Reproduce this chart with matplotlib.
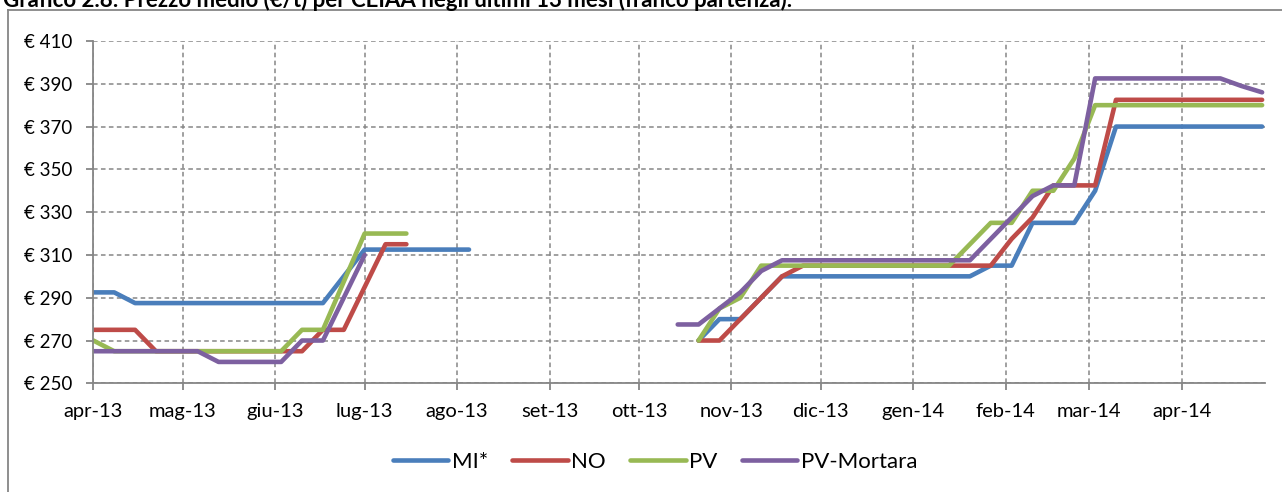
import matplotlib
matplotlib.use('Agg')
import matplotlib.pyplot as plt
import matplotlib.lines as mlines
import numpy as np
import pandas as pd

plt.rcParams['font.family'] = ['Lato', 'DejaVu Sans']

nan = np.nan

# settimane (dati settimanali dal 1 aprile 2013)
dates = pd.date_range('2013-04-01', periods=57, freq='7D')

mi = [292.5, 292.5] + [287.5] * 10 + [300] + [312.5] * 6 + [nan] * 10 \
    + [270, 280, 280, 290] + [300] * 10 + [305, 305, 325, 325, 325, 340] + [370] * 8
no = [275, 275, 275] + [265] * 8 + [275, 275, 295, 315, 315] + [nan] * 13 \
    + [270, 270, 280, 290, 300] + [305] * 10 + [317.5, 327.5, 342.5, 342.5, 342.5] + [382.5] * 8
pv = [270] + [265] * 9 + [275, 275, 297.5, 320, 320, 320] + [nan] * 13 \
    + [270, 285, 290] + [305] * 10 + [315, 325, 325, 340, 340, 355] + [380] * 9
pv_mortara = [265] * 6 + [260] * 4 + [270, 270, 290, 310] + [nan] * 14 \
    + [277.5, 277.5, 285, 292.5, 302.5] + [307.5] * 10 + [317.5, 327.5, 337.5, 342.5, 342.5] \
    + [392.5] * 7 + [389, 386]

series_names = ['MI*', 'NO', 'PV', 'PV-Mortara']
colors = ['#4A7EBB', '#BE4B48', '#98B954', '#7D60A0']

month_ticks = pd.date_range('2013-04-01', '2014-04-01', freq='MS')
month_labels = ['apr-13', 'mag-13', 'giu-13', 'lug-13', 'ago-13', 'set-13', 'ott-13',
                'nov-13', 'dic-13', 'gen-14', 'feb-14', 'mar-14', 'apr-14']
y_ticks = list(range(250, 411, 20))

fig = plt.figure(figsize=(12.82, 4.92), dpi=100)
ax = fig.add_axes([0.0728, 0.2209, 0.9140, 0.6958])

for vals, name, c in zip([mi, no, pv, pv_mortara], series_names, colors):
    ax.plot(dates, vals, color=c, lw=3.3, label=name, solid_capstyle='round', solid_joinstyle='round')

ax.set_xlim(dates[0], dates[-1] + pd.Timedelta(days=1))
ax.set_ylim(250, 410)
ax.set_xticks(month_ticks)
ax.set_xticklabels(month_labels)
ax.set_yticks(y_ticks)
ax.set_yticklabels([f'€ {v}' for v in y_ticks])

grey = '#868686'
ax.grid(True, color=grey, ls=(0, (3, 2.2)), lw=1.1)
ax.set_axisbelow(True)
for s in ['top', 'right']:
    ax.spines[s].set_visible(False)
for s in ['left', 'bottom']:
    ax.spines[s].set_color(grey)
    ax.spines[s].set_linewidth(1.3)
ax.tick_params(axis='both', color=grey, length=5, width=1.3, labelcolor='black')
ax.tick_params(axis='y', pad=10, labelsize=13.5)
ax.tick_params(axis='x', pad=9, labelsize=14.5)

leg = fig.legend(loc='center', bbox_to_anchor=(655 / 1282, 1 - 462 / 492), ncol=4, frameon=False,
                 fontsize=16, handlelength=2.5, handletextpad=0.15, columnspacing=1.1)

# cornice del grafico
fig.add_artist(mlines.Line2D([8 / 1282, 8 / 1282], [0, 1 - 10 / 492], color=grey, lw=1.3))
fig.add_artist(mlines.Line2D([8 / 1282, 1], [1 - 10 / 492, 1 - 10 / 492], color=grey, lw=1.3))

fig.text(0.002, 1 - 7 / 492, 'Grafico 2.8: Prezzo medio (€/t) per CEIAA negli ultimi 13 mesi (franco partenza).',
         fontsize=16, fontweight='bold', va='baseline', ha='left')

fig.savefig('out.png', dpi=100)
